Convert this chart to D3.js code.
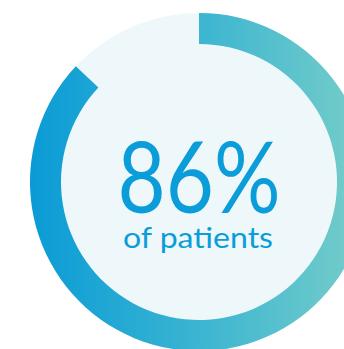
<!DOCTYPE html>
<html>
<head>
<meta charset="utf-8">
<script src="https://cdn.jsdelivr.net/npm/d3@7"></script>
<style>
  html, body { margin: 0; padding: 0; background: #ffffff; }
  svg { display: block; }
</style>
</head>
<body>
<div id="chart"></div>
<script>
// Values
const labelValue = [86];          // number printed in the centre
const ringValue = [87];           // how far the ring runs (percent of a full turn)
const subLabel = ['of patients'];
const gradientStops = ['#0a9bd6', '#3bb5d1', '#78cec9'];

const width = 344;
const height = 349;
const cx = 199;
const cy = 182;
const outerR = 169;
const innerR = 138;

const svg = d3.select('#chart')
  .append('svg')
  .attr('width', width)
  .attr('height', height);

const g = svg.append('g')
  .attr('transform', `translate(${cx},${cy})`);

// Horizontal gradient across the ring box (in the group's coordinates)
const grad = svg.append('defs')
  .append('linearGradient')
  .attr('id', 'ringGrad')
  .attr('gradientUnits', 'userSpaceOnUse')
  .attr('x1', -outerR).attr('y1', 0)
  .attr('x2', outerR).attr('y2', 0);

grad.selectAll('stop')
  .data(gradientStops)
  .enter()
  .append('stop')
  .attr('offset', (d, i) => i / (gradientStops.length - 1))
  .attr('stop-color', d => d);

// Pale disc behind everything
g.append('circle')
  .attr('r', outerR)
  .attr('fill', '#eef7f9');

// Percent -> angle
const angle = d3.scaleLinear()
  .domain([0, 100])
  .range([0, 2 * Math.PI]);

const arc = d3.arc()
  .innerRadius(innerR)
  .outerRadius(outerR)
  .startAngle(0)
  .endAngle(d => angle(d));

g.selectAll('.ring')
  .data(ringValue)
  .enter()
  .append('path')
  .attr('class', 'ring')
  .attr('d', arc)
  .attr('fill', 'url(#ringGrad)');

// Centre labels
g.selectAll('.big')
  .data(labelValue)
  .enter()
  .append('text')
  .attr('class', 'big')
  .attr('x', 0)
  .attr('y', 31)
  .attr('text-anchor', 'middle')
  .attr('font-family', 'Lato, sans-serif')
  .attr('font-weight', 400)
  .attr('font-size', 98)
  .attr('fill', '#0a9dd9')
  .attr('textLength', 163)
  .attr('lengthAdjust', 'spacingAndGlyphs')
  .text(d => d + '%');

g.selectAll('.sub')
  .data(subLabel)
  .enter()
  .append('text')
  .attr('class', 'sub')
  .attr('x', -1)
  .attr('y', 66)
  .attr('text-anchor', 'middle')
  .attr('font-family', 'Lato, sans-serif')
  .attr('font-weight', 400)
  .attr('font-size', 28)
  .attr('fill', '#0a9dd9')
  .attr('textLength', 150)
  .attr('lengthAdjust', 'spacingAndGlyphs')
  .text(d => d);
</script>
</body>
</html>
